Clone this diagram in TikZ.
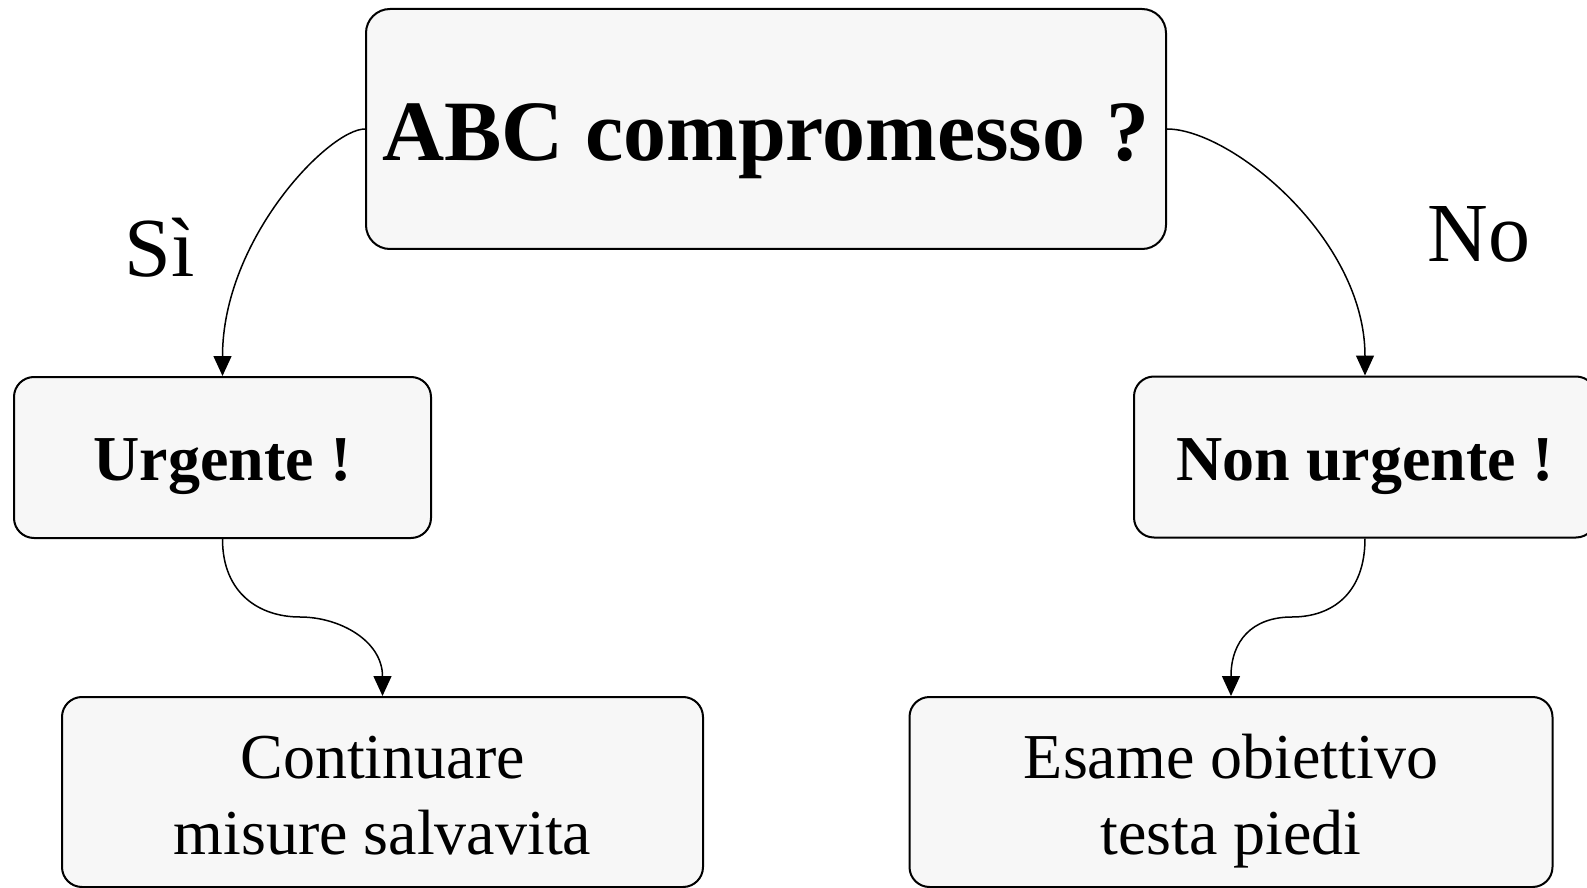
\documentclass[tikz,border=0pt]{standalone}
\usepackage{fontspec}
\setmainfont{Liberation Serif}
\usetikzlibrary{arrows.meta}
\definecolor{boxgray}{HTML}{F7F7F7}
\begin{document}
\begin{tikzpicture}[x=0.5pt,y=-0.5pt,
  box/.style={draw=black,line width=1pt,fill=boxgray,rounded corners=10pt,inner sep=0pt,align=center},
  link/.style={line width=0.75pt,-{Triangle[length=10pt,width=9pt]}}]
 \useasboundingbox (0,0) rectangle (1587,888);
 \node (abc) at (766,129) [box,rounded corners=12pt,minimum width=400pt,minimum height=120pt,text height=32pt,text depth=0pt,font=\fontsize{43}{50}\selectfont\bfseries] {ABC compromesso ?};
 \node (urg) at (222.5,457.5) [box,minimum width=208.5pt,minimum height=80.5pt,text height=23pt,text depth=0pt,font=\fontsize{32}{38}\selectfont\bfseries] {Urgente !};
 \node (nurg) at (1365,457) [box,minimum width=231pt,minimum height=80.5pt,text height=23pt,text depth=0pt,font=\fontsize{32}{38}\selectfont\bfseries] {Non urgente !};
 \node (cont) at (382.5,792) [box,minimum width=320.5pt,minimum height=95pt,font=\fontsize{32}{38}\selectfont] {\rule{0pt}{32pt}Continuare\\misure salvavita\rule[-8pt]{0pt}{0pt}};
 \node (esame) at (1231,792) [box,minimum width=321.5pt,minimum height=95pt,font=\fontsize{32}{38}\selectfont] {\rule{0pt}{32pt}Esame obiettivo\\testa piedi\rule[-8pt]{0pt}{0pt}};
 \node (si) at (124,277) [anchor=base west,inner sep=0pt,font=\fontsize{42}{48}\selectfont] {Sì};
 \node (no) at (1427,262) [anchor=base west,inner sep=0pt,font=\fontsize{42}{48}\selectfont] {No};
 \coordinate (bendL) at (300,617);
 \coordinate (bendR) at (1292,617);
 \draw[link] (abc.west) .. controls +(-36,0) and +(0,-137) .. (urg.north);
 \draw[link] (abc.east) .. controls +(64,0) and +(0,-137) .. (nurg.north);
 \draw[link] (urg.south) .. controls +(0,55) and +(-40,0) .. (bendL) .. controls +(40,0) and +(0,-55) .. (cont.north);
 \draw[link] (nurg.south) .. controls +(0,55) and +(40,0) .. (bendR) .. controls +(-40,0) and +(0,-55) .. (esame.north);
\end{tikzpicture}
\end{document}
